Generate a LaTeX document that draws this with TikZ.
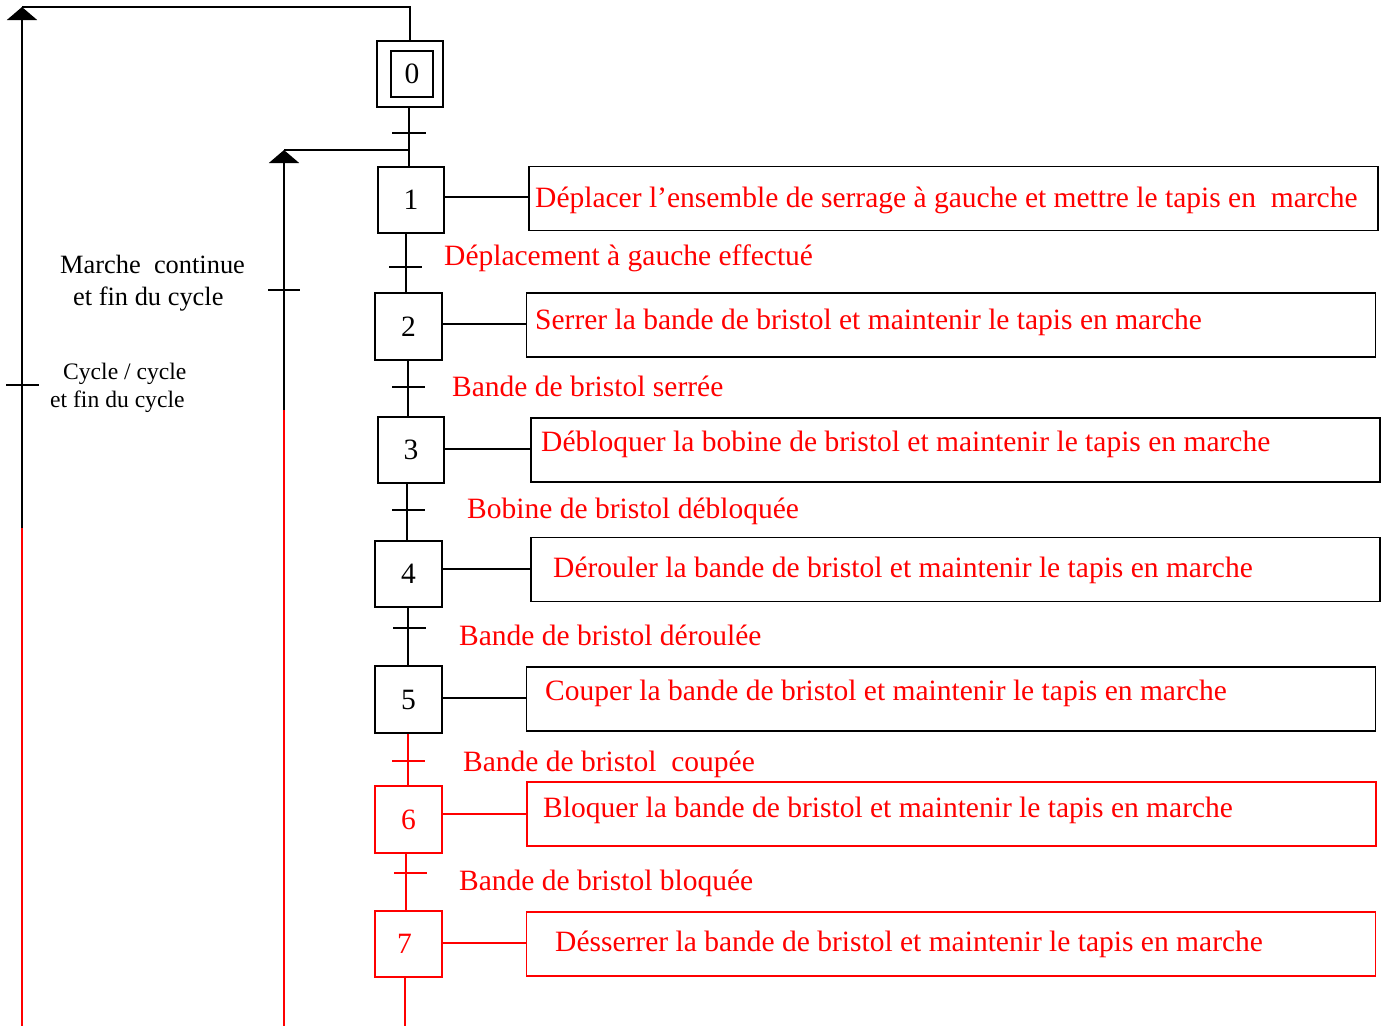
\documentclass[tikz,border=0pt]{standalone}
\usepackage{fontspec}
\setmainfont{Liberation Serif}
\usetikzlibrary{arrows.meta}
\begin{document}
\begin{tikzpicture}[x=1pt,y=-1pt,
  ln/.style={line width=1.8pt},
  bigfont/.style={font=\fontsize{29.5}{34}\selectfont},
  stepbox/.style={draw, line width=1.8pt, minimum width=66pt, minimum height=66pt, inner sep=0pt, bigfont},
  widestep/.style={stepbox, minimum width=67pt},
  actbox/.style={draw, line width=1.8pt, minimum width=849pt, minimum height=64pt, inner sep=0pt},
  acttxt/.style={anchor=base west, text=red, inner sep=0pt, bigfont},
  trlbl/.style={anchor=base west, text=red, inner sep=0pt, bigfont},
  sidelbl/.style={anchor=base west, inner sep=0pt},
  uparrow/.style={ln, -{Triangle[width=30pt,length=13pt]}},
  tick/.style={ln}]
\useasboundingbox (0,0) rectangle (1385,1026);

% ---------- steps ----------
\node[stepbox] (s0) at (410,74) {};
\node[draw, line width=1.8pt, minimum width=42pt, minimum height=46pt, inner sep=0pt, bigfont] (s0i) at (412,74) {0};
\node[stepbox] (s1) at (411,200) {1};
\node[widestep, minimum height=67pt] (s2) at (408.5,326.5) {2};
\node[stepbox] (s3) at (411,450) {3};
\node[widestep] (s4) at (408.5,574) {4};
\node[widestep, minimum height=67pt] (s5) at (408.5,699.5) {5};
\node[widestep, minimum height=67pt, red, text=red] (s6) at (408.5,819.5) {6};
\node[widestep, red, text=red] (s7) at (408.5,944) {\hspace*{-8pt}7};

% ---------- action boxes ----------
\node[actbox] (a1) at (953.5,198.5) {};
\node[actbox] (a2) at (951,325) {};
\node[actbox] (a3) at (955.5,450) {};
\node[actbox] (a4) at (955.5,569.5) {};
\node[actbox] (a5) at (951,699) {};
\node[actbox, red] (a6) at (951.5,814) {};
\node[actbox, red] (a7) at (951,944) {};

\node[acttxt] (t1) at (535,207) {Déplacer l’ensemble de serrage à gauche et mettre le tapis en~~marche};
\node[acttxt] (t2) at (535,329) {Serrer la bande de bristol et maintenir le tapis en marche};
\node[acttxt] (t3) at (541,451) {Débloquer la bobine de bristol et maintenir le tapis en marche};
\node[acttxt] (t4) at (553,577) {Dérouler la bande de bristol et maintenir le tapis en marche};
\node[acttxt] (t5) at (545,700) {Couper la bande de bristol et maintenir le tapis en marche};
\node[acttxt] (t6) at (543,817) {Bloquer la bande de bristol et maintenir le tapis en marche};
\node[acttxt] (t7) at (555,951) {Désserrer la bande de bristol et maintenir le tapis en marche};

% action links
\draw[ln] (s1.east |- 0,197) -- (a1.west |- 0,197);
\draw[ln] (s2.east |- 0,324) -- (a2.west |- 0,324);
\draw[ln] (s3.east |- 0,449) -- (a3.west |- 0,449);
\draw[ln] (s4.east |- 0,569) -- (a4.west |- 0,569);
\draw[ln] (s5.east |- 0,698) -- (a5.west |- 0,698);
\draw[ln, red] (s6.east |- 0,814) -- (a6.west |- 0,814);
\draw[ln, red] (s7.east |- 0,943) -- (a7.west |- 0,943);

% ---------- transitions ----------
\coordinate (tr0) at (409,133);
\coordinate (tr1) at (406,267);
\coordinate (tr2) at (408,387);
\coordinate (tr3) at (407,510);
\coordinate (tr4) at (408,628);
\coordinate (tr5) at (408,761);
\coordinate (tr6) at (406,873);

\draw[ln] (tr0 |- s0.south) -- (tr0 |- s1.north);
\draw[ln] (tr1 |- s1.south) -- (tr1 |- s2.north);
\draw[ln] (tr2 |- s2.south) -- (tr2 |- s3.north);
\draw[ln] (tr3 |- s3.south) -- (tr3 |- s4.north);
\draw[ln] (tr4 |- s4.south) -- (tr4 |- s5.north);
\draw[ln, red] (tr5 |- s5.south) -- (tr5 |- s6.north);
\draw[ln, red] (tr6 |- s6.south) -- (tr6 |- s7.north);
\coordinate (endc) at (405,1026);
\draw[ln, red] (endc |- s7.south) -- (endc);

\draw[tick] (tr0) +(-17,0) -- +(17,0);
\draw[tick] (tr1) +(-17,0) -- +(16,0);
\draw[tick] (tr2) +(-16,0) -- +(17,0);
\draw[tick] (tr3) +(-15,0) -- +(18,0);
\draw[tick] (tr4) +(-15,0) -- +(18,0);
\draw[tick, red] (tr5) +(-16,0) -- +(17,0);
\draw[tick, red] (tr6) +(-12,0) -- +(21,0);

\node[trlbl] (r1) at (444,265) {Déplacement à gauche effectué};
\node[trlbl] (r2) at (452,396) {Bande de bristol serrée};
\node[trlbl] (r3) at (467,518) {Bobine de bristol débloquée};
\node[trlbl] (r4) at (459,645) {Bande de bristol déroulée};
\node[trlbl] (r5) at (463,771) {Bande de bristol~~coupée};
\node[trlbl] (r6) at (459,890) {Bande de bristol bloquée};

% ---------- loop back to step 0 ----------
\coordinate (top0) at (410,7);
\coordinate (L0) at (22,7);
\coordinate (L0m) at (22,528);
\coordinate (L0b) at (22,1026);
\coordinate (L0t) at (22,385);
\draw[ln] (s0.north) -- (top0) -- (L0);
\draw[uparrow] (L0m) -- (L0);
\draw[ln, red] (L0b) -- (L0m);
\draw[tick] (L0t) +(-16,0) -- +(17,0);

% ---------- loop back to step 1 ----------
\coordinate (j1) at (409,150);
\coordinate (L1) at (284,150);
\coordinate (L1m) at (284,410);
\coordinate (L1b) at (284,1026);
\coordinate (L1t) at (284,290);
\draw[ln] (j1) -- (L1);
\draw[uparrow] (L1m) -- (L1);
\draw[ln, red] (L1b) -- (L1m);
\draw[tick] (L1t) +(-16,0) -- +(16,0);

% ---------- side labels ----------
\node[sidelbl, font=\fontsize{26.4}{30}\selectfont] (m1) at (60,273) {Marche~~continue};
\node[sidelbl, font=\fontsize{26.4}{30}\selectfont] (m2) at (73,305) {et fin du cycle};
\node[sidelbl, font=\fontsize{23.6}{28}\selectfont] (c1) at (63,379) {Cycle / cycle};
\node[sidelbl, font=\fontsize{23.6}{28}\selectfont] (c2) at (50,407) {et fin du cycle};
\end{tikzpicture}
\end{document}
